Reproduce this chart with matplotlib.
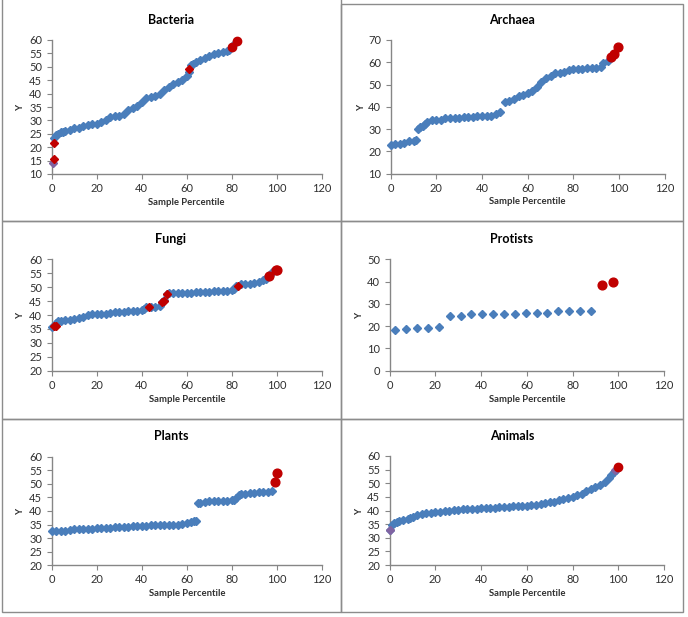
import matplotlib
matplotlib.use("Agg")
import matplotlib.pyplot as plt
from matplotlib.patches import Rectangle

# --- data ---

# Bacteria
bact_x = [1, 2, 3, 4, 5, 6, 8, 10, 12, 14, 16, 18, 20, 22, 24, 26, 28, 30, 32, 34, 36,
          38, 40, 42, 44, 46, 48, 50, 52, 54, 56, 58, 60, 61, 62, 63, 64, 66, 68, 70,
          72, 74, 76, 78, 79, 81]
bact_y = [23.5, 24.5, 25, 25.5, 25.8, 26, 26.5, 27, 27.2, 27.8, 28.2, 28.5, 28.8, 29.5,
          30.2, 31.2, 31.6, 31.8, 32.5, 33.8, 34.5, 35.3, 36.8, 38.2, 38.8, 39.2, 40,
          41.2, 42.3, 43.5, 44.3, 45.2, 46.5, 48, 50.5, 51.2, 51.8, 52.5, 53.2, 54,
          54.8, 55.2, 55.5, 55.8, 56.2, 58.5]
bact_red_d_x = [1, 1, 61]
bact_red_d_y = [15.5, 21.5, 49]
bact_red_x = [80, 82.3]
bact_red_y = [57.3, 59.8]
bact_purple_x = [0.5]
bact_purple_y = [14]

# Archaea
arch_x = [0, 2, 4, 6, 8, 10, 11, 12, 13, 14, 15, 16, 18, 20, 22, 24, 26, 28, 30, 32,
          34, 36, 38, 40, 42, 44, 46, 48, 50, 52, 54, 56, 58, 60, 62, 64, 66, 68, 70,
          72, 74, 76, 78, 80, 82, 84, 86, 88, 90, 92, 93, 95]
arch_y = [23, 23.3, 23.5, 24, 24.5, 24.8, 25, 30, 30.8, 31.5, 32.3, 33, 34, 34, 34.2,
          35, 35.2, 35.2, 35.2, 35.3, 35.4, 35.5, 35.8, 36, 36, 36, 36.8, 37.5, 42,
          42.5, 43.5, 45, 45.5, 46, 47, 49, 51, 53, 54, 55, 55, 55.5, 56.5, 57, 57,
          57.2, 57.3, 57.3, 57.3, 58, 59.5, 60.5]
arch_red_x = [96.5, 98, 99.5]
arch_red_y = [62.3, 63.5, 66.8]

# Fungi
fungi_x = [0, 1, 2, 3, 4, 6, 8, 10, 12, 14, 16, 18, 20, 22, 24, 26, 28, 30, 32, 34,
           36, 38, 40, 41, 42, 44, 46, 48, 49, 50, 51, 52, 54, 56, 58, 60, 62, 64, 66,
           68, 70, 72, 74, 76, 78, 80, 81, 82, 84, 86, 88, 90, 92, 94, 95, 96, 97, 98]
fungi_y = [35.8, 36.2, 37, 38, 38, 38.3, 38.3, 38.5, 38.8, 39.3, 40, 40.2, 40.3, 40.4,
           40.5, 40.6, 41, 41, 41.2, 41.4, 41.5, 41.5, 41.8, 42.2, 42.8, 43, 43, 43.2,
           44.5, 45.5, 47.5, 47.8, 48, 48, 48, 48, 48, 48.2, 48.2, 48.3, 48.4, 48.5,
           48.5, 48.6, 48.7, 48.8, 49.2, 50.5, 51, 51.2, 51.3, 51.5, 52, 52.5, 53, 54,
           54.5, 55.5]
fungi_red_d_x = [1, 2, 43, 49, 50, 51, 82.5]
fungi_red_d_y = [36, 36.2, 43, 44.5, 45.2, 47.5, 50.5]
fungi_red_x = [96.5, 99.5, 100]
fungi_red_y = [54, 56, 56.3]

# Protists
prot_x = [2.4, 7.1, 11.9, 16.7, 21.4, 26.2, 31.0, 35.7, 40.5, 45.2, 50.0, 54.8, 59.5,
          64.3, 69.0, 73.8, 78.6, 83.3, 88.1]
prot_y = [18.3, 18.9, 19.0, 19.3, 19.8, 24.7, 24.7, 25.3, 25.6, 25.6, 25.6, 25.6, 26.0,
          26.0, 26.0, 26.6, 26.6, 26.6, 26.6]
prot_red_x = [92.9, 97.6]
prot_red_y = [38.3, 39.7]

# Plants
plant_x = [0, 2, 4, 6, 8, 10, 12, 14, 16, 18, 20, 22, 24, 26, 28, 30, 32, 34, 36, 38,
           40, 42, 44, 46, 48, 50, 52, 54, 56, 58, 60, 62, 63, 64, 65, 66, 68, 70, 72,
           74, 76, 78, 80, 81, 82, 83, 84, 86, 88, 90, 92, 94, 96, 98]
plant_y = [32.7, 32.8, 32.8, 32.8, 33, 33.2, 33.2, 33.2, 33.3, 33.5, 33.7, 33.8, 33.8,
           33.9, 34, 34, 34, 34.1, 34.3, 34.4, 34.5, 34.6, 34.7, 34.7, 34.7, 34.7, 34.8,
           34.9, 35, 35.2, 35.7, 36, 36.3, 36.5, 43, 43, 43.3, 43.5, 43.5, 43.6, 43.7,
           43.8, 44, 44.2, 44.8, 45.8, 46.2, 46.4, 46.6, 46.8, 46.9, 47, 47, 47.2]
plant_red_x = [99, 100]
plant_red_y = [50.5, 54]

# Animals
anim_x = [0, 1, 2, 3, 4, 6, 8, 9, 10, 12, 14, 16, 18, 20, 22, 24, 26, 28, 30, 32, 34,
          36, 38, 40, 42, 44, 46, 48, 50, 52, 54, 56, 58, 60, 62, 64, 66, 68, 70, 72,
          74, 76, 78, 80, 82, 84, 86, 88, 90, 92, 94, 96, 97, 98, 99, 100]
anim_y = [33, 34.5, 35.3, 35.8, 36.2, 36.5, 36.8, 37.2, 37.6, 38.2, 38.6, 39, 39.2,
          39.5, 39.6, 39.8, 40, 40.1, 40.3, 40.4, 40.5, 40.6, 40.7, 40.8, 40.9, 41,
          41.1, 41.2, 41.3, 41.4, 41.5, 41.6, 41.7, 41.8, 42, 42.2, 42.4, 42.6, 43,
          43.3, 43.7, 44.1, 44.6, 45, 45.6, 46.2, 47, 47.8, 48.5, 49.5, 50.5, 52, 53,
          54, 55, 56]
anim_red_x = [99.8]
anim_red_y = [56]
anim_purple_x = [0, 98.5]
anim_purple_y = [33, 55]

W, H = 688, 617
BLUE = "#4A7EBB"
RED = "#C00000"
PURPLE = "#8064A2"
GRAY = "#868686"

plt.rcParams['font.family'] = ['Lato', 'DejaVu Sans']

fig = plt.figure(figsize=(W / 100, H / 100), dpi=100)


def add_ax(l, t, r, b):
    return fig.add_axes([l / W, 1 - b / H, (r - l) / W, (b - t) / H])


def ftext(x, y, s, **kw):
    fig.text(x / W, 1 - y / H, s, ha='center', va='center', **kw)


# panel frames
for (l, t, r, b) in [(2, -2, 341, 221), (341, 4, 683, 221),
                     (2, 221, 341, 419), (341, 221, 683, 419),
                     (2, 419, 341, 612), (341, 419, 683, 612)]:
    fig.add_artist(Rectangle((l / W, 1 - b / H), (r - l) / W, (b - t) / H,
                             transform=fig.transFigure, fill=False,
                             edgecolor="#8c8c8c", linewidth=1.0))

panels = [
    # title, axes box, y range, y step, title y, label y, ylabel x, panel center x
    ("Bacteria", (51.7, 40, 321.7, 174), (10, 60), 5, 20, 203, 20.5, 171),
    ("Archaea", (390.7, 40, 664.7, 173.7), (10, 70), 10, 20, 202, 361, 512),
    ("Fungi", (51.7, 259.3, 322, 370.7), (20, 60), 5, 239, 400, 20.5, 171),
    ("Protists", (389.7, 259.3, 664, 370.7), (0, 50), 10, 239, 400, 360, 512),
    ("Plants", (51.7, 456.7, 322, 565.3), (20, 60), 5, 436, 594, 20.5, 171),
    ("Animals", (389.7, 456, 664, 565), (20, 60), 5, 436, 594, 360, 512),
]

DENSE = 4.3
series = {
    "Bacteria": [(bact_x, bact_y, BLUE, 'D', DENSE),
                 (bact_purple_x, bact_purple_y, PURPLE, 'D', 4.0),
                 (bact_red_d_x, bact_red_d_y, RED, 'D', 4.0),
                 (bact_red_x, bact_red_y, RED, 'o', 6.0)],
    "Archaea": [(arch_x, arch_y, BLUE, 'D', DENSE),
                (arch_red_x, arch_red_y, RED, 'o', 6.3)],
    "Fungi": [(fungi_x, fungi_y, BLUE, 'D', DENSE),
              (fungi_red_d_x, fungi_red_d_y, RED, 'D', 4.0),
              (fungi_red_x, fungi_red_y, RED, 'o', 6.3)],
    "Protists": [(prot_x, prot_y, BLUE, 'D', 4.3),
                 (prot_red_x, prot_red_y, RED, 'o', 6.3)],
    "Plants": [(plant_x, plant_y, BLUE, 'D', DENSE),
               (plant_red_x, plant_red_y, RED, 'o', 6.3)],
    "Animals": [(anim_x, anim_y, BLUE, 'D', DENSE),
                (anim_purple_x, anim_purple_y, PURPLE, 'D', 4.0),
                (anim_red_x, anim_red_y, RED, 'o', 6.0)],
}

for title, box, (y0, y1), ystep, ty, ly, yx, cx in panels:
    ax = add_ax(*box)
    for xs, ys, col, mk, ms in series[title]:
        ax.plot(xs, ys, linestyle='none', marker=mk, markersize=ms, color=col,
                markeredgecolor=col, clip_on=False, zorder=3)
    ax.set_xlim(0, 120)
    ax.set_ylim(y0, y1)
    ax.set_xticks(range(0, 121, 20))
    ax.set_yticks(range(y0, y1 + 1, ystep))
    for s in ['top', 'right']:
        ax.spines[s].set_visible(False)
    for s in ['left', 'bottom']:
        ax.spines[s].set_color(GRAY)
        ax.spines[s].set_linewidth(1.0)
    ax.tick_params(axis='both', direction='out', length=3.5, width=0.8, color=GRAY,
                   labelsize=8, labelcolor="#303030")
    ax.tick_params(axis='x', pad=3)
    ax.tick_params(axis='y', pad=3.5)
    ftext(cx, ty, title, fontsize=9, fontweight='bold', color='black')
    ftext((box[0] + box[2]) / 2, ly, "Sample Percentile", fontsize=6.8,
          fontweight='bold', color="#303030")
    ftext(yx, (box[1] + box[3]) / 2, "Y", fontsize=6.8, fontweight='bold',
          rotation=90, color="#303030")

fig.savefig("out.png", dpi=100, facecolor='white')
